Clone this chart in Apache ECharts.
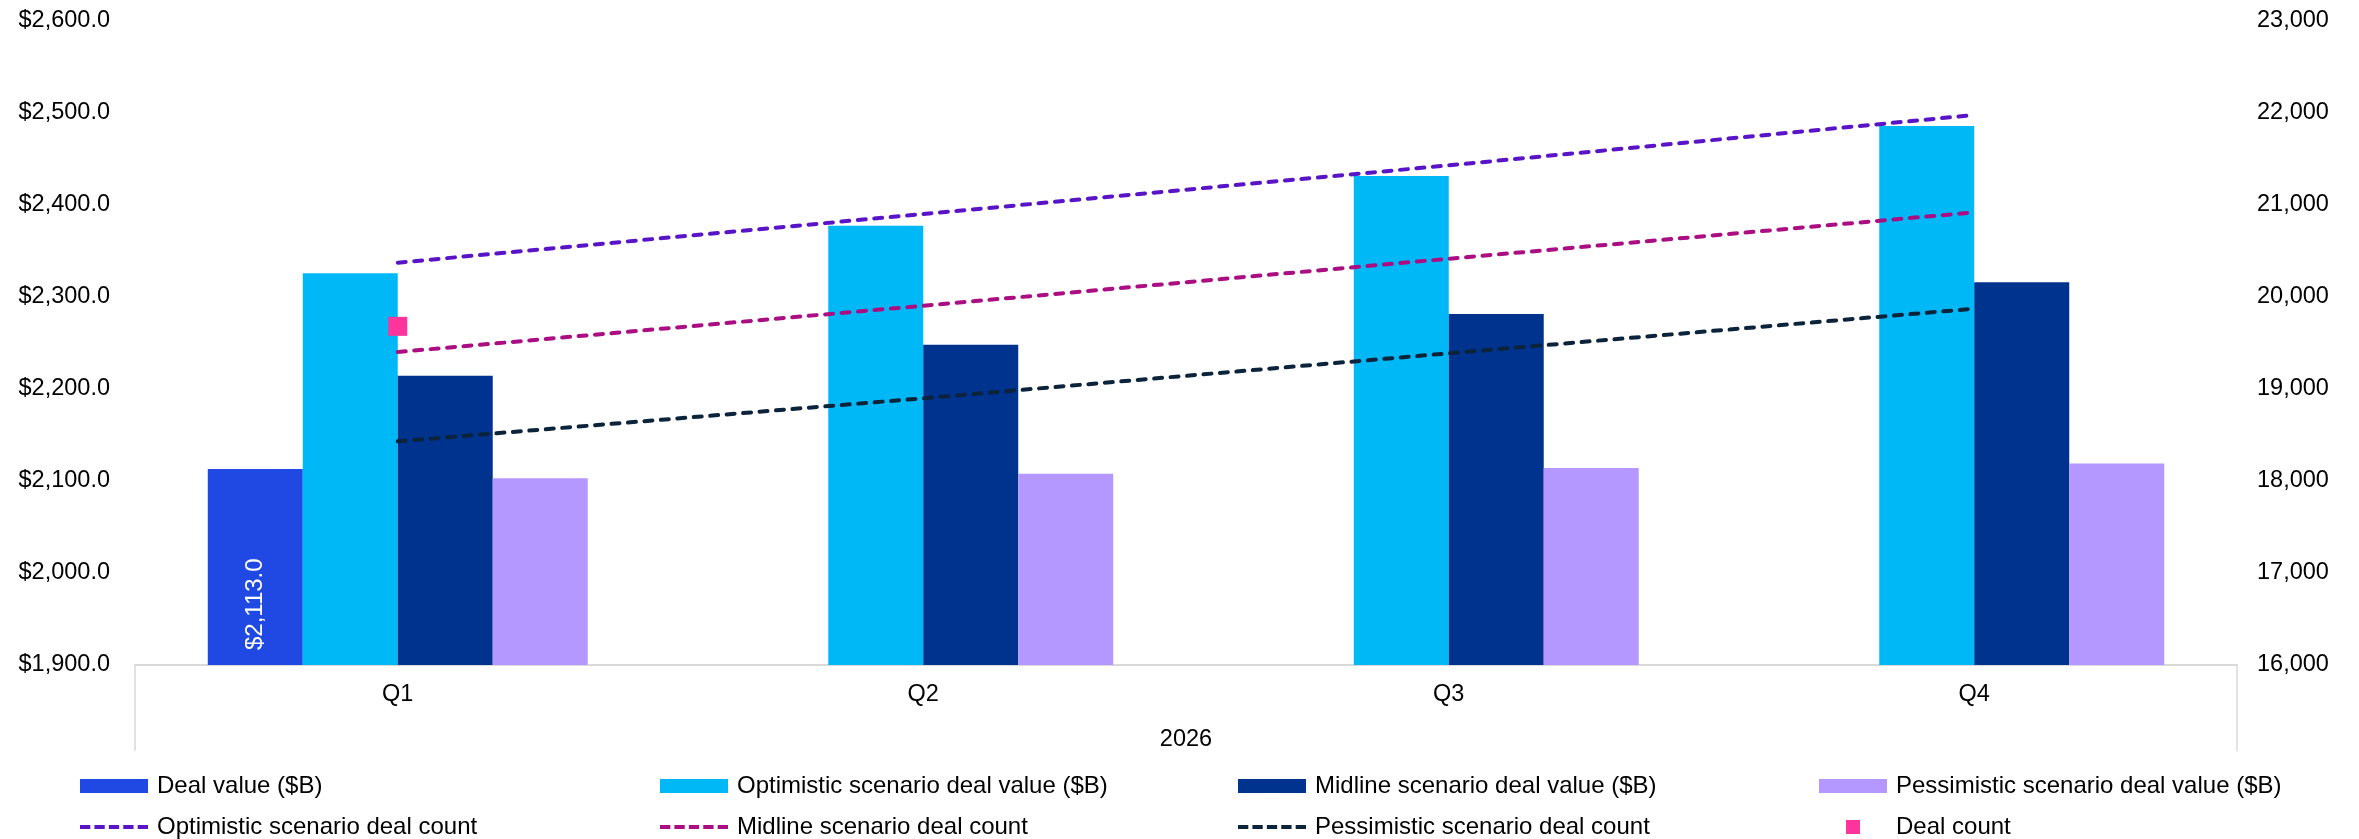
<!DOCTYPE html>
<html>
<head>
<meta charset="utf-8">
<script src="https://cdn.jsdelivr.net/npm/echarts@6/dist/echarts.min.js"></script>
<style>
html,body{margin:0;padding:0;background:#fff;}
#chart{width:2359px;height:839px;}
</style>
</head>
<body>
<div id="chart"></div>
<script>
// ---- data ----
const categories = ['Q1', 'Q2', 'Q3', 'Q4'];
const yearLabel = ['2026'];
const dealValue = [2113, null, null, null];
const optimisticValue = [2325.7, 2377.5, 2431.5, 2486];
const midlineValue = [2214.5, 2248, 2281.5, 2316];
const pessimisticValue = [2103, 2108, 2114, 2119];
const optimisticCount = [20373, 20902, 21431, 21978];
const midlineCount = [19402, 19905, 20416, 20920];
const pessimisticCount = [18431, 18899, 19388, 19873];
const dealCount = [19681, null, null, null];
const leftTicks = {min: 1900, max: 2600, interval: 100};
const rightTicks = {min: 16000, max: 23000, interval: 1000};

const FONT = '"Liberation Sans", Arial, sans-serif';
const TXT = '#000000';
const names = {
  dv: 'Deal value ($B)',
  ov: 'Optimistic scenario deal value ($B)',
  mv: 'Midline scenario deal value ($B)',
  pv: 'Pessimistic scenario deal value ($B)',
  oc: 'Optimistic scenario deal count',
  mc: 'Midline scenario deal count',
  pc: 'Pessimistic scenario deal count',
  dc: 'Deal count'
};
const fmtMoney = v => '$' + Number(v).toLocaleString('en-US', {minimumFractionDigits: 1, maximumFractionDigits: 1});
const fmtCount = v => Number(v).toLocaleString('en-US');

const dashLine = (color) => ({color: color, width: 4, type: [8, 8.5], cap: 'round'});

const squareIcon = 'path://M0,0L10,0L10,10L0,10Z';
const dashIcon = 'path://M0,0h10v4h-10z M14,0h10v4h-10z M28,0h10v4h-10z M42,0h10v4h-10z M56,0h10v4h-10z';

function legendCol(left, items) {
  return {
    orient: 'vertical', left: left, top: 774, padding: 0,
    itemWidth: 68, itemHeight: 14, itemGap: 17,
    textStyle: {fontFamily: FONT, fontSize: 24, color: TXT, lineHeight: 24, padding: [0, 0, 0, 4]},
    data: items
  };
}

const option = {
  backgroundColor: '#ffffff',
  animation: false,
  grid: {left: 135, right: 122, top: 21, bottom: 174, containLabel: false},
  legend: [
    legendCol(80, [{name: names.dv, icon: 'rect'}, {name: names.oc, icon: dashIcon}]),
    legendCol(660, [{name: names.ov, icon: 'rect'}, {name: names.mc, icon: dashIcon}]),
    legendCol(1238, [{name: names.mv, icon: 'rect'}, {name: names.pc, icon: dashIcon}]),
    legendCol(1819, [{name: names.pv, icon: 'rect'}, {name: names.dc, icon: squareIcon}])
  ],
  xAxis: [
    {
      type: 'category', data: categories, position: 'bottom',
      axisLine: {show: true, lineStyle: {color: '#D9D9D9', width: 2}},
      axisTick: {show: false},
      axisLabel: {fontFamily: FONT, fontSize: 23.5, color: TXT, margin: 18},
      splitLine: {show: false}
    },
    {
      type: 'category', data: yearLabel, position: 'bottom',
      axisLine: {show: false},
      axisTick: {show: true, alignWithLabel: false, length: 86, lineStyle: {color: '#D9D9D9', width: 1.5}},
      axisLabel: {fontFamily: FONT, fontSize: 23.5, color: TXT, margin: 63},
      splitLine: {show: false}
    }
  ],
  yAxis: [
    {
      type: 'value', min: leftTicks.min, max: leftTicks.max, interval: leftTicks.interval,
      axisLine: {show: false}, axisTick: {show: false}, splitLine: {show: false},
      axisLabel: {fontFamily: FONT, fontSize: 23.5, color: TXT, margin: 25, formatter: fmtMoney}
    },
    {
      type: 'value', min: rightTicks.min, max: rightTicks.max, interval: rightTicks.interval,
      axisLine: {show: false}, axisTick: {show: false}, splitLine: {show: false},
      axisLabel: {fontFamily: FONT, fontSize: 23.5, color: TXT, margin: 20, formatter: fmtCount}
    }
  ],
  series: [
    {
      name: names.dv, type: 'bar', data: dealValue, barGap: 0, barCategoryGap: '27.7%',
      itemStyle: {color: '#1F49E2'},
      label: {show: true, position: 'insideBottom', rotate: 90, distance: 15, align: 'left', verticalAlign: 'middle',
        fontFamily: FONT, fontSize: 24, color: '#ffffff', formatter: p => fmtMoney(p.value)}
    },
    {name: names.ov, type: 'bar', data: optimisticValue, barGap: 0, barCategoryGap: '27.7%', itemStyle: {color: '#00B8F5'}},
    {name: names.mv, type: 'bar', data: midlineValue, barGap: 0, barCategoryGap: '27.7%', itemStyle: {color: '#00338D'}},
    {name: names.pv, type: 'bar', data: pessimisticValue, barGap: 0, barCategoryGap: '27.7%', itemStyle: {color: '#B497FF'}},
    {name: names.oc, type: 'line', yAxisIndex: 1, data: optimisticCount, symbol: 'none',
      itemStyle: {color: '#5A14C8'}, lineStyle: dashLine('#5A14C8'), z: 3},
    {name: names.mc, type: 'line', yAxisIndex: 1, data: midlineCount, symbol: 'none',
      itemStyle: {color: '#AB0D82'}, lineStyle: dashLine('#AB0D82'), z: 3},
    {name: names.pc, type: 'line', yAxisIndex: 1, data: pessimisticCount, symbol: 'none',
      itemStyle: {color: '#0C233C'}, lineStyle: dashLine('#0C233C'), z: 3},
    {name: names.dc, type: 'scatter', yAxisIndex: 1, data: dealCount, symbol: 'rect', symbolSize: 19,
      itemStyle: {color: '#FD349C', opacity: 1}, z: 4}
  ]
};

const chart = echarts.init(document.getElementById('chart'), null, {renderer: 'canvas'});
chart.setOption(option);
</script>
</body>
</html>
